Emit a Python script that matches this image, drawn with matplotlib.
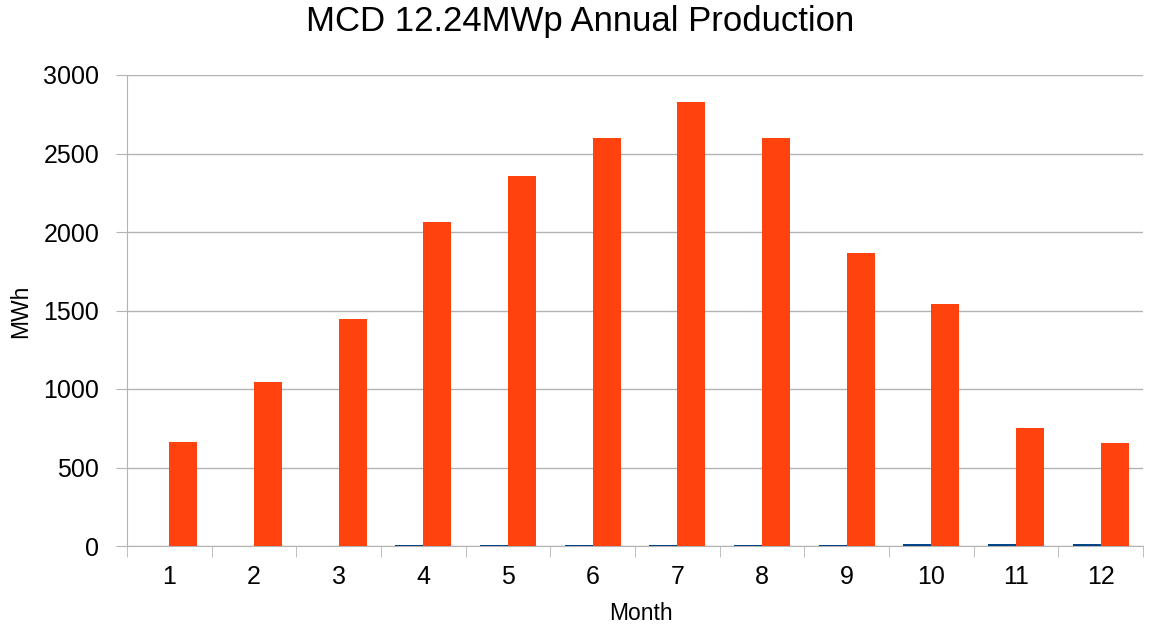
import numpy as np
import matplotlib.pyplot as plt

plt.rcParams['font.family'] = ['Liberation Sans', 'DejaVu Sans']

# monthly values
months = [1, 2, 3, 4, 5, 6, 7, 8, 9, 10, 11, 12]
month_series = [1, 2, 3, 4, 5, 6, 7, 8, 9, 10, 11, 12]
production = [662, 1045, 1446, 2064, 2357, 2599, 2828, 2600, 1866, 1541, 752, 656]

grid_col = '#b3b3b3'

fig = plt.figure(figsize=(11.53, 6.27), dpi=100)
ax = fig.add_axes([127/1153, 1 - 546/627, (1143 - 127)/1153, (546 - 75)/627])

x = np.arange(len(months)) + 1
w = 0.33
ax.bar(x - w/2, month_series, w, color='#004586', zorder=3)
ax.bar(x + w/2, production, w, color='#ff420e', zorder=3)

ax.set_xlim(0.5, 12.5)
ax.set_ylim(0, 3000)
ax.set_yticks(range(0, 3001, 500))
ax.set_xticks(x)
ax.set_xticklabels([str(m) for m in months])
ax.set_xticks(np.arange(0.5, 13, 1), minor=True)
ax.tick_params(axis='x', which='major', length=0, pad=14, labelsize=18)
ax.tick_params(axis='x', which='minor', length=8, color=grid_col, direction='out')
ax.tick_params(axis='y', length=8, color=grid_col, pad=12, labelsize=18)

ax.grid(axis='y', color=grid_col, linewidth=1, zorder=0)
for s in ['top', 'right']:
    ax.spines[s].set_visible(False)
for s in ['left', 'bottom']:
    ax.spines[s].set_color(grid_col)

fig.text(641/1153, 1 - 614/627, 'Month', fontsize=16.5, ha='center', va='center')
fig.text(21/1153, 1 - 311/627, 'MWh', fontsize=16.5, ha='center', va='center',
         rotation=90)
fig.text(580/1153, 1 - 22/627, 'MCD 12.24MWp Annual Production', fontsize=25,
         ha='center', va='center')

fig.savefig('out.png', dpi=100)
